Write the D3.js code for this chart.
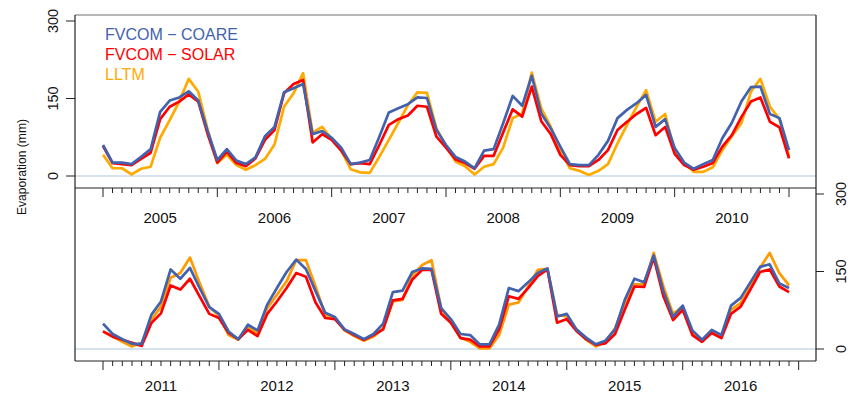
<!DOCTYPE html>
<html>
<head>
<meta charset="utf-8">
<script src="https://cdn.jsdelivr.net/npm/d3@7"></script>
<style>
  body { margin: 0; background: #fff; }
  svg { font-family: "Liberation Sans", Arial, sans-serif; }
</style>
</head>
<body>
<div id="chart"></div>
<script>
// Monthly evaporation (mm)
var topYears = ["2005", "2006", "2007", "2008", "2009", "2010"];
var bottomYears = ["2011", "2012", "2013", "2014", "2015", "2016"];
var yTicks = [0, 150, 300];

var topCoare = [60,26,26,23,37,52,124,146,152,164,146,86,31,52,30,23,36,77,95,162,170,178,81,87,74,55,23,26,31,76,123,131,139,152,151,89,60,37,28,15,49,52,102,155,136,194,121,92,57,23,21,21,41,68,112,128,141,157,95,110,54,26,14,23,31,73,103,144,172,173,120,112,50];
var topSolar = [58,25,23,21,33,45,110,134,144,158,144,80,26,47,25,19,34,70,89,160,178,186,65,81,70,49,23,25,23,60,99,110,117,136,134,76,55,32,25,14,39,39,84,129,115,173,106,81,41,21,19,19,31,50,89,105,120,132,79,95,43,21,12,18,25,57,79,114,144,152,105,94,34];
var topLltm = [41,15,15,3,14,18,74,108,144,188,163,89,25,41,21,12,21,33,61,134,160,199,84,95,72,50,13,7,6,37,70,103,137,162,161,92,58,28,19,3,18,23,55,112,121,200,131,95,50,15,10,2,10,23,63,99,134,166,105,120,47,25,8,8,17,50,77,102,163,188,134,110,38];

var botCoare = [49,29,19,10,10,66,92,154,136,157,118,81,68,34,19,47,36,86,118,149,173,155,112,70,62,38,29,19,29,49,110,113,149,156,155,79,58,29,27,9,9,47,118,112,129,147,156,63,68,38,22,9,16,38,95,136,129,181,112,62,84,36,18,37,27,84,99,129,159,164,127,118];
var botSolar = [34,24,18,12,6,50,69,123,115,136,102,68,60,31,19,37,25,68,92,118,147,140,90,60,58,37,27,18,27,38,94,97,134,153,153,68,51,21,18,5,5,38,102,97,118,141,154,51,58,35,19,8,11,29,76,121,120,177,102,56,76,27,14,31,21,68,82,115,149,154,121,110];
var botLltm = [34,24,14,5,12,56,82,138,147,177,128,82,64,27,18,42,31,79,105,131,172,172,121,66,61,36,25,16,24,40,92,95,142,162,172,79,51,22,14,1,1,27,86,90,121,153,155,66,63,37,18,5,14,40,89,125,125,186,121,68,82,31,16,34,24,76,89,121,157,186,147,123];

var blue = "#4262ae", red = "#ff0000";

var W = 850, H = 395;
var left = 75, right = 816;

var svg = d3.select("#chart")
  .append("svg")
  .attr("width", W)
  .attr("height", H);

// scales
var xTop = d3.scaleLinear().domain([0, 72]).range([103, 789]);
var yTop = d3.scaleLinear().domain([0, 300]).range([176, 21]);
var xBot = d3.scaleLinear().domain([0, 71]).range([103, 789]);
var yBot = d3.scaleLinear().domain([0, 300]).range([349, 194]);

// zero lines
svg.append("line")
  .attr("x1", left).attr("x2", right)
  .attr("y1", yTop(0)).attr("y2", yTop(0))
  .attr("stroke", "#a9c6de").attr("stroke-width", 1);
svg.append("line")
  .attr("x1", left).attr("x2", right)
  .attr("y1", yBot(0)).attr("y2", yBot(0))
  .attr("stroke", "#a9c6de").attr("stroke-width", 1);

// lines
function drawSeries(x, y, values, color) {
  var line = d3.line()
    .x(function(d, i) { return x(i); })
    .y(function(d) { return y(d); });
  svg.append("path")
    .datum(values)
    .attr("fill", "none")
    .attr("stroke", color)
    .attr("stroke-width", 2.7)
    .attr("stroke-linejoin", "round")
    .attr("d", line);
}

drawSeries(xTop, yTop, topLltm, "#ffaa00");
drawSeries(xTop, yTop, topSolar, red);
drawSeries(xTop, yTop, topCoare, blue);

drawSeries(xBot, yBot, botLltm, "#ff9a00");
drawSeries(xBot, yBot, botSolar, red);
drawSeries(xBot, yBot, botCoare, blue);

// frame
svg.append("line").attr("x1", left).attr("x2", right).attr("y1", 15).attr("y2", 15)
  .attr("stroke", "#6e6e6e").attr("stroke-width", 1.2);
svg.append("line").attr("x1", left).attr("x2", left).attr("y1", 15).attr("y2", 361)
  .attr("stroke", "#222").attr("stroke-width", 1.2);
svg.append("line").attr("x1", right).attr("x2", right).attr("y1", 15).attr("y2", 361)
  .attr("stroke", "#222").attr("stroke-width", 1.2);
svg.append("line").attr("x1", left).attr("x2", right).attr("y1", 188).attr("y2", 188)
  .attr("stroke", "#222").attr("stroke-width", 1.2);
svg.append("line").attr("x1", left).attr("x2", right).attr("y1", 361).attr("y2", 361)
  .attr("stroke", "#222").attr("stroke-width", 1.2);

// month ticks
var months = d3.range(0, 73);
function monthTicks(x, y0) {
  svg.append("g").selectAll("line")
    .data(months)
    .enter()
    .append("line")
    .attr("x1", function(d) { return x(d); })
    .attr("x2", function(d) { return x(d); })
    .attr("y1", y0)
    .attr("y2", function(d) { return y0 + (d % 12 === 0 ? 9 : 5); })
    .attr("stroke", "#222")
    .attr("stroke-width", 1);
}
monthTicks(xTop, 188);
monthTicks(xBot, 361);

// year labels
svg.append("g").selectAll("text")
  .data(topYears)
  .enter()
  .append("text")
  .attr("x", function(d, i) { return xTop(i * 12 + 6); })
  .attr("y", 223)
  .attr("text-anchor", "middle")
  .style("font-size", "15px")
  .style("fill", "#111")
  .text(function(d) { return d; });

svg.append("g").selectAll("text")
  .data(bottomYears)
  .enter()
  .append("text")
  .attr("x", function(d, i) { return xBot(i * 12 + 6); })
  .attr("y", 391)
  .attr("text-anchor", "middle")
  .style("font-size", "15px")
  .style("fill", "#111")
  .text(function(d) { return d; });

// y axes: top on the left, bottom on the right
svg.append("g").selectAll("line")
  .data(yTicks).enter().append("line")
  .attr("x1", left - 9).attr("x2", left)
  .attr("y1", function(d) { return yTop(d); })
  .attr("y2", function(d) { return yTop(d); })
  .attr("stroke", "#222");
svg.append("g").selectAll("text")
  .data(yTicks).enter().append("text")
  .attr("transform", function(d) { return "translate(58," + yTop(d) + ")rotate(-90)"; })
  .attr("text-anchor", "middle")
  .style("font-size", "14.5px")
  .style("fill", "#111")
  .text(function(d) { return d; });

svg.append("g").selectAll("line")
  .data(yTicks).enter().append("line")
  .attr("x1", right).attr("x2", right + 8)
  .attr("y1", function(d) { return yBot(d); })
  .attr("y2", function(d) { return yBot(d); })
  .attr("stroke", "#222");
svg.append("g").selectAll("text")
  .data(yTicks).enter().append("text")
  .attr("transform", function(d) { return "translate(846," + yBot(d) + ")rotate(-90)"; })
  .attr("text-anchor", "middle")
  .style("font-size", "14.5px")
  .style("fill", "#111")
  .text(function(d) { return d; });

// y label
svg.append("text")
  .attr("transform", "translate(26,167)rotate(-90)")
  .attr("text-anchor", "middle")
  .attr("textLength", 96)
  .attr("lengthAdjust", "spacingAndGlyphs")
  .style("font-size", "13px")
  .style("fill", "#111")
  .text("Evaporation (mm)");

// legend
var legendNames = ["FVCOM \u2212 COARE", "FVCOM \u2212 SOLAR", "LLTM"];
var legendColors = [blue, red, "#ffaa00"];
svg.append("g").selectAll("text")
  .data(legendNames).enter().append("text")
  .attr("x", 105)
  .attr("y", function(d, i) { return 40 + i * 19.8; })
  .style("font-size", "16px")
  .style("fill", function(d, i) { return legendColors[i]; })
  .text(function(d) { return d; });
</script>
</body>
</html>
